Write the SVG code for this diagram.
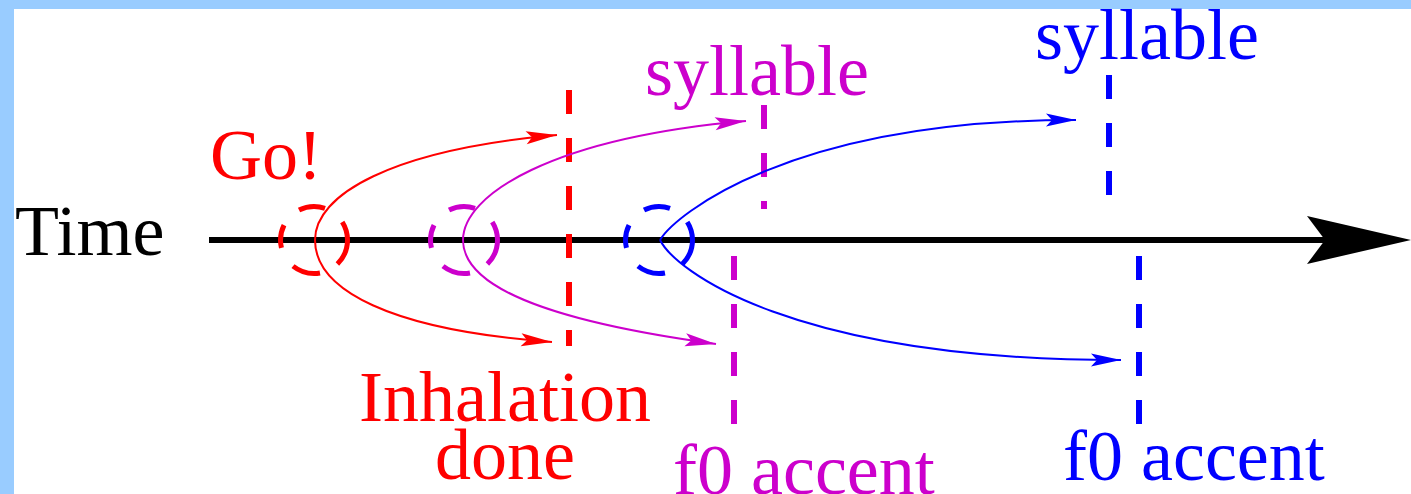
<svg xmlns="http://www.w3.org/2000/svg" width="1411" height="494" viewBox="0 0 1411 494">
  <style>
    text { font-family: "Liberation Serif", "Times New Roman", serif; font-size: 72px; }
    .red { fill: #FF0000; }
    .mag { fill: #CC00CC; }
    .blu { fill: #0000FF; }
    .clock { fill: none; stroke-width: 5; stroke-dasharray: 45.7 34 49.1 37.4 40.4 36.8 45.8 38.3 32.5 0; }
    .vdash { fill: none; stroke-width: 6; stroke-dasharray: 24 24; }
    .curve { fill: none; stroke-width: 2; }
  </style>
  <defs>
    <marker id="ahR" markerUnits="userSpaceOnUse" markerWidth="40" markerHeight="20" viewBox="-34 -10 40 20" refX="0" refY="0" orient="auto">
      <path d="M0,0 L-31,-6.5 L-25,0 L-31,6.5 Z" fill="#FF0000"/>
    </marker>
    <marker id="ahM" markerUnits="userSpaceOnUse" markerWidth="40" markerHeight="20" viewBox="-34 -10 40 20" refX="0" refY="0" orient="auto">
      <path d="M0,0 L-31,-6.5 L-25,0 L-31,6.5 Z" fill="#CC00CC"/>
    </marker>
    <marker id="ahB" markerUnits="userSpaceOnUse" markerWidth="40" markerHeight="20" viewBox="-34 -10 40 20" refX="0" refY="0" orient="auto">
      <path d="M0,0 L-30,-6.5 L-24,0 L-30,6.5 Z" fill="#0000FF"/>
    </marker>
  </defs>

  <rect x="0" y="0" width="1411" height="494" fill="#FFFFFF"/>
  <rect x="0" y="0" width="1411" height="9" fill="#99CCFF"/>
  <rect x="0" y="0" width="14" height="494" fill="#99CCFF"/>

  <g id="time-axis">
    <line x1="209" y1="240" x2="1330" y2="240" stroke="#000000" stroke-width="6"/>
    <polygon points="1411,240 1307,216 1325,240 1307,264" fill="#000000"/>
    <text x="15" y="255" fill="#000000">Time</text>
  </g>

  <g id="go">
    <circle cx="314" cy="240" r="33.5" pathLength="360" class="clock" stroke="#FF0000"/>
    <text x="210" y="179" class="red">Go!</text>
  </g>

  <g id="clock-magenta">
    <circle cx="464" cy="240" r="33.5" pathLength="360" class="clock" stroke="#CC00CC"/>
  </g>

  <g id="clock-blue">
    <circle cx="659" cy="240" r="33.5" pathLength="360" class="clock" stroke="#0000FF"/>
  </g>

  <g id="inhalation-done">
    <line x1="569" y1="90" x2="569" y2="346" class="vdash" stroke="#FF0000"/>
    <text x="505" y="421" class="red" text-anchor="middle">Inhalation</text>
    <text x="505" y="479" class="red" text-anchor="middle">done</text>
  </g>

  <g id="syllable-magenta">
    <line x1="764" y1="105" x2="764" y2="209" class="vdash" stroke="#CC00CC"/>
    <text x="645" y="95" class="mag">syllable</text>
  </g>

  <g id="f0-accent-magenta">
    <line x1="734" y1="256" x2="734" y2="424" class="vdash" stroke="#CC00CC"/>
    <text x="673" y="494" class="mag">f0 accent</text>
  </g>

  <g id="syllable-blue">
    <line x1="1109" y1="75" x2="1109" y2="195" class="vdash" stroke="#0000FF"/>
    <text x="1035" y="59" class="blu">syllable</text>
  </g>

  <g id="f0-accent-blue">
    <line x1="1139" y1="256" x2="1139" y2="424" class="vdash" stroke="#0000FF"/>
    <text x="1063" y="480" class="blu">f0 accent</text>
  </g>

  <g id="connectors">
    <path class="curve" stroke="#FF0000" d="M315,240 C315,195 390,150 557,135" marker-end="url(#ahR)"/>
    <path class="curve" stroke="#FF0000" d="M315,240 C315,290 390,330 552,342" marker-end="url(#ahR)"/>
    <path class="curve" stroke="#CC00CC" d="M463,240 C463,195 551,138 746,121" marker-end="url(#ahM)"/>
    <path class="curve" stroke="#CC00CC" d="M463,240 C463,285 540,320 716,344" marker-end="url(#ahM)"/>
    <path class="curve" stroke="#0000FF" d="M660,240 C675,215 790,120 1076,120" marker-end="url(#ahB)"/>
    <path class="curve" stroke="#0000FF" d="M660,240 C675,270 790,360 1121,360" marker-end="url(#ahB)"/>
  </g>
</svg>
